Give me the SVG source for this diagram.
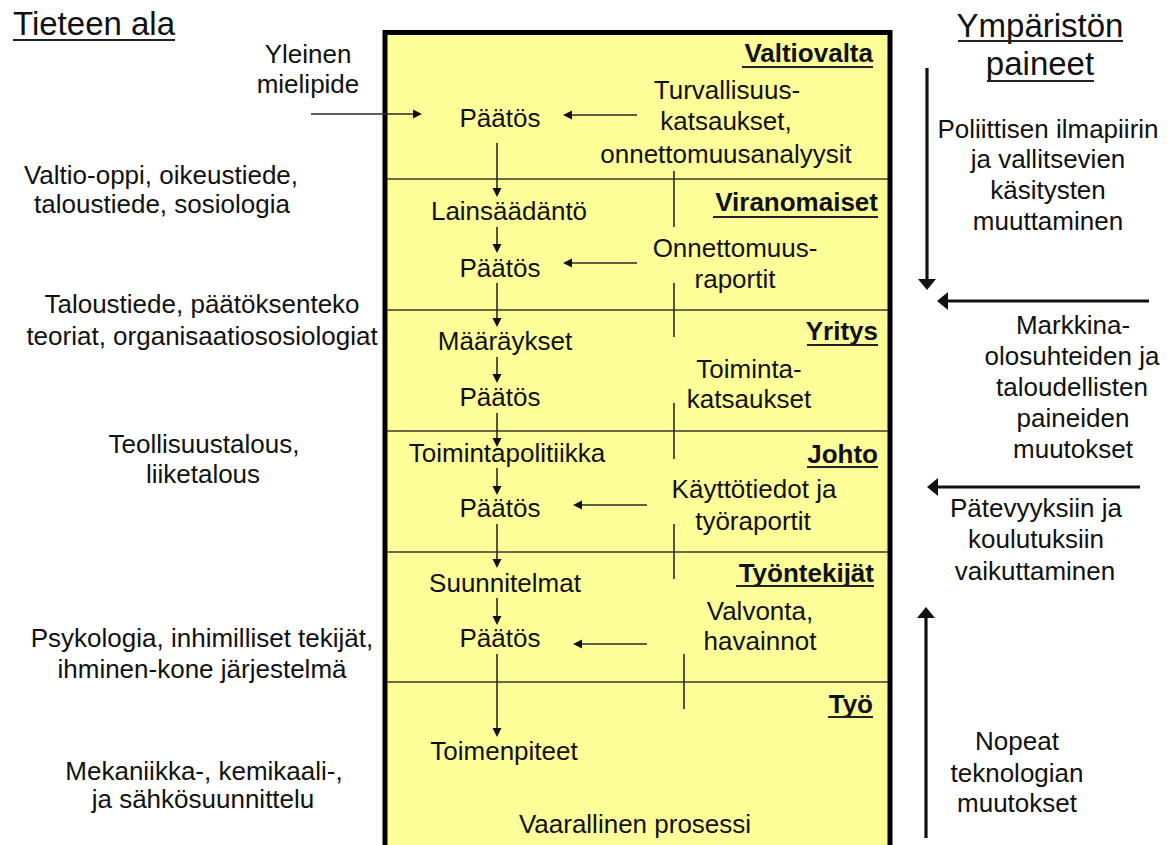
<svg xmlns="http://www.w3.org/2000/svg" width="1176" height="845" viewBox="0 0 1176 845">
  <style>
    text { font-family: "Liberation Sans", Arial, sans-serif; fill: #111; }
    .t { font-size: 26px; text-anchor: middle; }
    .h { font-size: 33px; }
    .lvl { font-size: 26px; font-weight: bold; text-anchor: end; }
    .ul { stroke: #222; stroke-width: 2; }
    .div { stroke: #3a3a2a; stroke-width: 1.6; }
    .thin { stroke: #2a2a2a; stroke-width: 1.6; fill: none; }
    .thick { stroke: #111; stroke-width: 3.2; fill: none; }
  </style>
  <defs>
    <marker id="ah" markerUnits="userSpaceOnUse" markerWidth="10" markerHeight="9" refX="0" refY="4.5" orient="auto" overflow="visible">
      <path d="M0,0 L9,4.5 L0,9 z" fill="#111"/>
    </marker>
    <marker id="ahBig" markerUnits="userSpaceOnUse" markerWidth="12" markerHeight="18" refX="0" refY="9" orient="auto" overflow="visible">
      <path d="M0,0 L11,9 L0,18 z" fill="#111"/>
    </marker>
  </defs>

  <rect width="1176" height="845" fill="#fff"/>

  <!-- organisation levels frame -->
  <g id="frame">
    <rect x="385" y="32.5" width="505" height="860" fill="#FFFF99" stroke="#000" stroke-width="5"/>
    <line class="div" x1="387" y1="179" x2="888" y2="179"/>
    <line class="div" x1="387" y1="310" x2="888" y2="310"/>
    <line class="div" x1="387" y1="431" x2="888" y2="431"/>
    <line class="div" x1="387" y1="552" x2="888" y2="552"/>
    <line class="div" x1="387" y1="682" x2="888" y2="682"/>
  </g>

  <!-- column headings -->
  <g id="head-tiede">
    <text class="h" x="13" y="35">Tieteen ala</text>
    <line class="ul" x1="13" y1="40" x2="175" y2="40"/>
  </g>
  <g id="head-paineet">
    <text class="h" x="1040" y="37" text-anchor="middle">Ympäristön</text>
    <line class="ul" x1="958" y1="41" x2="1123" y2="41"/>
    <text class="h" x="1040" y="75" text-anchor="middle">paineet</text>
    <line class="ul" x1="987" y1="81" x2="1094" y2="81"/>
  </g>

  <!-- level titles -->
  <g id="lvl-valtiovalta">
    <text class="lvl" x="873" y="62">Valtiovalta</text>
    <line class="ul" x1="742" y1="67" x2="873" y2="67"/>
  </g>
  <g id="lvl-viranomaiset">
    <text class="lvl" x="878" y="211">Viranomaiset</text>
    <line class="ul" x1="713" y1="217" x2="878" y2="217"/>
  </g>
  <g id="lvl-yritys">
    <text class="lvl" x="878" y="340">Yritys</text>
    <line class="ul" x1="807" y1="345" x2="878" y2="345"/>
  </g>
  <g id="lvl-johto">
    <text class="lvl" x="878" y="463">Johto</text>
    <line class="ul" x1="807" y1="467" x2="878" y2="467"/>
  </g>
  <g id="lvl-tyontekijat">
    <text class="lvl" x="874" y="582">Työntekijät</text>
    <line class="ul" x1="736" y1="586" x2="874" y2="586"/>
  </g>
  <g id="lvl-tyo">
    <text class="lvl" x="873" y="713">Työ</text>
    <line class="ul" x1="828" y1="717" x2="873" y2="717"/>
  </g>

  <!-- decision chain -->
  <g id="n-paatos1"><text class="t" x="500" y="127">Päätös</text></g>
  <g id="n-lainsaadanto"><text class="t" x="509" y="220">Lainsäädäntö</text></g>
  <g id="n-paatos2"><text class="t" x="500" y="277">Päätös</text></g>
  <g id="n-maaraykset"><text class="t" x="505" y="350">Määräykset</text></g>
  <g id="n-paatos3"><text class="t" x="500" y="406">Päätös</text></g>
  <g id="n-toimintapolitiikka"><text class="t" x="507" y="462">Toimintapolitiikka</text></g>
  <g id="n-paatos4"><text class="t" x="500" y="517">Päätös</text></g>
  <g id="n-suunnitelmat"><text class="t" x="505" y="592">Suunnitelmat</text></g>
  <g id="n-paatos5"><text class="t" x="500" y="647">Päätös</text></g>
  <g id="n-toimenpiteet"><text class="t" x="504" y="760">Toimenpiteet</text></g>
  <g id="n-prosessi"><text class="t" x="635" y="833">Vaarallinen prosessi</text></g>

  <!-- feedback sources -->
  <g id="f-katsaukset">
    <text class="t" x="727" y="99">Turvallisuus-</text>
    <text class="t" x="726" y="130">katsaukset,</text>
    <text class="t" x="726" y="163">onnettomuusanalyysit</text>
  </g>
  <g id="f-raportit">
    <text class="t" x="735" y="257">Onnettomuus-</text>
    <text class="t" x="735" y="288">raportit</text>
  </g>
  <g id="f-toiminta">
    <text class="t" x="749" y="378">Toiminta-</text>
    <text class="t" x="749" y="408">katsaukset</text>
  </g>
  <g id="f-kaytto">
    <text class="t" x="754" y="498">Käyttötiedot ja</text>
    <text class="t" x="753" y="530">työraportit</text>
  </g>
  <g id="f-valvonta">
    <text class="t" x="760" y="620">Valvonta,</text>
    <text class="t" x="760" y="650">havainnot</text>
  </g>

  <!-- public opinion -->
  <g id="n-mielipide">
    <text class="t" x="308" y="63">Yleinen</text>
    <text class="t" x="308" y="93">mielipide</text>
  </g>

  <!-- disciplines -->
  <g id="d-valtio">
    <text class="t" x="161" y="184">Valtio-oppi, oikeustiede,</text>
    <text class="t" x="162" y="213">taloustiede, sosiologia</text>
  </g>
  <g id="d-talous">
    <text class="t" x="202" y="313">Taloustiede, päätöksenteko</text>
    <text class="t" x="202" y="345">teoriat, organisaatiososiologiat</text>
  </g>
  <g id="d-teollisuus">
    <text class="t" x="204" y="453">Teollisuustalous,</text>
    <text class="t" x="203" y="483">liiketalous</text>
  </g>
  <g id="d-psykologia">
    <text class="t" x="202" y="647">Psykologia, inhimilliset tekijät,</text>
    <text class="t" x="202" y="678">ihminen-kone järjestelmä</text>
  </g>
  <g id="d-mekaniikka">
    <text class="t" x="204" y="780">Mekaniikka-, kemikaali-,</text>
    <text class="t" x="203" y="808">ja sähkösuunnittelu</text>
  </g>

  <!-- environmental pressures -->
  <g id="p-poliittinen">
    <text class="t" x="1048" y="138">Poliittisen ilmapiirin</text>
    <text class="t" x="1048" y="168">ja vallitsevien</text>
    <text class="t" x="1048" y="199">käsitysten</text>
    <text class="t" x="1048" y="230">muuttaminen</text>
  </g>
  <g id="p-markkina">
    <text class="t" x="1073" y="334">Markkina-</text>
    <text class="t" x="1072" y="365">olosuhteiden ja</text>
    <text class="t" x="1072" y="396">taloudellisten</text>
    <text class="t" x="1073" y="427">paineiden</text>
    <text class="t" x="1073" y="458">muutokset</text>
  </g>
  <g id="p-patevyys">
    <text class="t" x="1036" y="517">Pätevyyksiin ja</text>
    <text class="t" x="1036" y="548">koulutuksiin</text>
    <text class="t" x="1035" y="580">vaikuttaminen</text>
  </g>
  <g id="p-teknologia">
    <text class="t" x="1017" y="750">Nopeat</text>
    <text class="t" x="1017" y="782">teknologian</text>
    <text class="t" x="1017" y="812">muutokset</text>
  </g>

  <!-- connectors -->
  <g id="connectors">
    <!-- opinion into top decision -->
    <line class="thin" x1="311" y1="114" x2="413" y2="114" marker-end="url(#ah)"/>
    <!-- downward decision chain -->
    <line class="thin" x1="497" y1="143" x2="497" y2="188" marker-end="url(#ah)"/>
    <line class="thin" x1="497" y1="227" x2="497" y2="244" marker-end="url(#ah)"/>
    <line class="thin" x1="497" y1="283" x2="497" y2="318" marker-end="url(#ah)"/>
    <line class="thin" x1="497" y1="357" x2="497" y2="374" marker-end="url(#ah)"/>
    <line class="thin" x1="497" y1="413" x2="497" y2="438" marker-end="url(#ah)"/>
    <line class="thin" x1="497" y1="468" x2="497" y2="486" marker-end="url(#ah)"/>
    <line class="thin" x1="497" y1="524" x2="497" y2="559" marker-end="url(#ah)"/>
    <line class="thin" x1="497" y1="598" x2="497" y2="616" marker-end="url(#ah)"/>
    <line class="thin" x1="497" y1="654" x2="497" y2="728" marker-end="url(#ah)"/>
    <!-- feedback into decisions -->
    <line class="thin" x1="637" y1="115" x2="572" y2="115" marker-end="url(#ah)"/>
    <line class="thin" x1="637" y1="263" x2="572" y2="263" marker-end="url(#ah)"/>
    <line class="thin" x1="647" y1="505" x2="582" y2="505" marker-end="url(#ah)"/>
    <line class="thin" x1="647" y1="644" x2="582" y2="644" marker-end="url(#ah)"/>
    <!-- feedback risers between levels -->
    <line class="thin" x1="674" y1="171" x2="674" y2="227"/>
    <line class="thin" x1="674" y1="283" x2="674" y2="337"/>
    <line class="thin" x1="674" y1="403" x2="674" y2="459"/>
    <line class="thin" x1="674" y1="524" x2="674" y2="579"/>
    <line class="thin" x1="684" y1="654" x2="684" y2="709"/>
    <!-- environmental pressure arrows -->
    <line class="thick" x1="927" y1="68" x2="927" y2="279" marker-end="url(#ahBig)"/>
    <line class="thick" x1="1149" y1="301" x2="948" y2="301" marker-end="url(#ahBig)"/>
    <line class="thick" x1="1140" y1="487" x2="938" y2="487" marker-end="url(#ahBig)"/>
    <line class="thick" x1="926" y1="838" x2="926" y2="618" marker-end="url(#ahBig)"/>
  </g>
</svg>
